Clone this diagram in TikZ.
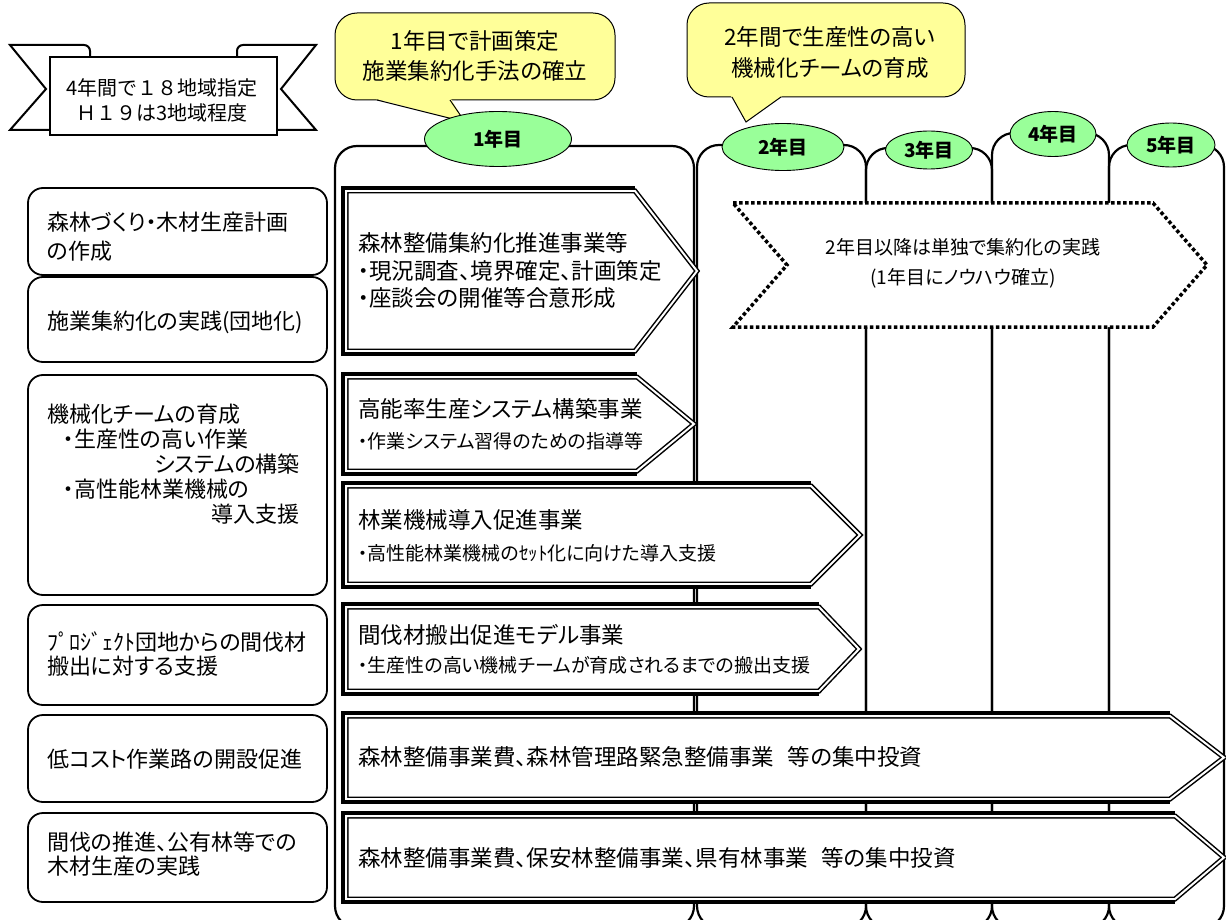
\documentclass[tikz,border=0pt]{standalone}
\usepackage{fontspec}
\usetikzlibrary{shapes.geometric}
\newfontfamily\jp[RawFeature=+palt]{Noto Sans CJK JP}
\newfontfamily\jpm{Noto Sans CJK JP}
\definecolor{ygreen}{HTML}{99FF99}
\definecolor{cyellow}{HTML}{FFFF99}
\tikzset{
  lbox/.style={draw, line width=1.8pt, rounded corners=15pt, fill=white},
  colframe/.style={draw, line width=2.2pt, rounded corners=22pt},
  ribbon/.style={draw, line width=2pt, fill=white},
  callout/.style={draw, line width=1pt, fill=cyellow, rounded corners=22pt},
  yearell/.style={ellipse, draw, line width=0.9pt, fill=ygreen, inner sep=0pt,
    font=\jp\bfseries\fontsize{19}{22}\selectfont},
  dotarrow/.style={draw, line width=3.5pt, dash pattern=on 3.5pt off 2.5pt, fill=white},
  tA/.style={inner sep=0pt, font=\jp\fontsize{22.5}{26}\selectfont, text height=19.1pt, text depth=3.4pt},
  tL/.style={inner sep=0pt, font=\jp\fontsize{22}{26}\selectfont, text height=18.7pt, text depth=3.3pt},
  tS/.style={inner sep=0pt, font=\jp\fontsize{19}{22}\selectfont, text height=16.2pt, text depth=2.8pt},
  tB/.style={inner sep=0pt, font=\jpm\fontsize{20}{24}\selectfont, text height=17pt, text depth=3pt},
}
\newcommand{\parrowshape}[5]{%
  \draw[line width=1.5pt, double=white, double distance=2pt, fill=white]
    (#1,#2) -- (#4,#2) -- (#5,{(#2+#3)/2}) -- (#4,#3) -- (#1,#3) -- cycle;
  \draw[line width=4pt] (#4,#2-3) -- (#1-3,#2-3) -- (#1-3,#3+3) -- (#4,#3+3);
}
\begin{document}
\begin{tikzpicture}[x=1pt,y=-1pt,line join=miter]
\useasboundingbox (0,0) rectangle (1226,920);
\clip (0,0) rectangle (1226,920);

% year columns
\draw[colframe] (335,146) rectangle (694,928);
\draw[colframe] (697,145) rectangle (866,928);
\draw[colframe] (866,148) rectangle (992,928);
\draw[colframe] (992,133) rectangle (1109,928);
\draw[colframe] (1109,145) rectangle (1224,928);

% banner
\draw[ribbon] (10,45) [rounded corners=6] -- (90,45) [sharp corners] -- (90,130) -- (10,130) -- (46,89) -- cycle;
\draw[ribbon] (316,45) [rounded corners=6] -- (237,45) [sharp corners] -- (237,130) -- (316,130) -- (281,89) -- cycle;
\draw[ribbon] (50,57) rectangle (277,135);
\node[tB] (b1) at (162,89) {4年間で１８地域指定};
\node[tB] (b2) at (162,114) {Ｈ１９は3地域程度};

% callouts
\draw[callout] (335,13) rectangle (615,100);
\fill[cyellow] (376,99) -- (451,99) -- (465,122) -- cycle;
\draw[line width=1pt] (377,100) -- (465,122) -- (450,100);
\node[tA] (c1a) at (475,42) {1年目で計画策定};
\node[tA] (c1b) at (475,72) {施業集約化手法の確立};

\draw[callout] (687,3) rectangle (965,97);
\fill[cyellow] (731,96) -- (782,96) -- (746,122) -- cycle;
\draw[line width=1pt] (732,97) -- (746,122) -- (781,97);
\node[tA] (c2a) at (830,38) {2年間で生産性の高い};
\node[tA] (c2b) at (830,69) {機械化チームの育成};

% year ellipses
\node[yearell, minimum width=147pt, minimum height=55pt] (y1) at (498,139) {1年目};
\node[yearell, minimum width=122pt, minimum height=47pt] (y2) at (783,147) {2年目};
\node[yearell, minimum width=87pt, minimum height=38pt] (y3) at (929,150) {3年目};
\node[yearell, minimum width=86pt, minimum height=45pt] (y4) at (1053,134) {4年目};
\node[yearell, minimum width=88pt, minimum height=44pt] (y5) at (1171,145) {5年目};

% left boxes
\draw[lbox] (28,188) rectangle (327,275);
\draw[lbox] (28,277) rectangle (327,362);
\draw[lbox] (28,375) rectangle (327,595);
\draw[lbox] (28,605) rectangle (327,705);
\draw[lbox] (28,715) rectangle (327,802);
\draw[lbox] (28,813) rectangle (327,902);
\node[tL, anchor=west] (la1) at (47,223) {森林づくり・木材生産計画};
\node[tL, anchor=west] (la2) at (47,252) {の作成};
\node[tL, anchor=west] (lb1) at (47,322) {施業集約化の実践(団地化)};
\node[tL, anchor=west] (lc1) at (47,415) {機械化チームの育成};
\node[tL, anchor=west] (lc2) at (63,440) {・生産性の高い作業};
\node[tL, anchor=east] (lc3) at (300,465) {システムの構築};
\node[tL, anchor=west] (lc4) at (63,490) {・高性能林業機械の};
\node[tL, anchor=east] (lc5) at (300,515) {導入支援};
\node[tL, anchor=west] (ld1) at (47,643) {ﾌﾟﾛｼﾞｪｸﾄ団地からの間伐材};
\node[tL, anchor=west] (ld2) at (47,667) {搬出に対する支援};
\node[tL, anchor=west] (le1) at (47,760) {低コスト作業路の開設促進};
\node[tL, anchor=west] (lf1) at (47,843) {間伐の推進、公有林等での};
\node[tL, anchor=west] (lf2) at (47,867) {木材生産の実践};

% project arrows
\parrowshape{346}{191}{351}{635}{697}
\node[tA, anchor=west] (a1a) at (358,244) {森林整備集約化推進事業等};
\node[tA, anchor=west] (a1b) at (358,272) {・現況調査、境界確定、計画策定};
\node[tA, anchor=west] (a1c) at (358,299) {・座談会の開催等合意形成};

\parrowshape{346}{377}{471}{637}{694}
\node[tA, anchor=west] (a2a) at (358,410) {高能率生産システム構築事業};
\node[tS, anchor=west] (a2b) at (358,442) {・作業システム習得のための指導等};

\parrowshape{346}{486}{584}{811}{860}
\node[tA, anchor=west] (a3a) at (358,521) {林業機械導入促進事業};
\node[tS, anchor=west] (a3b) at (358,554) {・高性能林業機械のｾｯﾄ化に向けた導入支援};

\parrowshape{346}{607}{691}{819}{859}
\node[tA, anchor=west] (a4a) at (358,636) {間伐材搬出促進モデル事業};
\node[tS, anchor=west] (a4b) at (358,666) {・生産性の高い機械チームが育成されるまでの搬出支援};

\parrowshape{346}{716}{799}{1170}{1224}
\node[tA, anchor=west] (a5) at (358,758) {森林整備事業費、森林管理路緊急整備事業\hspace{0.6em}等の集中投資};

\parrowshape{346}{816}{899}{1175}{1224}
\node[tA, anchor=west] (a6) at (358,859) {森林整備事業費、保安林整備事業、県有林事業\hspace{0.6em}等の集中投資};

% dotted chevron
\draw[dotarrow] (733,203) -- (1153,203) -- (1207,265) -- (1153,327) -- (733,327) -- (787,265) -- cycle;
\node[tS] (d1) at (963,248) {2年目以降は単独で集約化の実践};
\node[tS] (d2) at (963,278) {(1年目にノウハウ確立)};
\end{tikzpicture}
\end{document}
